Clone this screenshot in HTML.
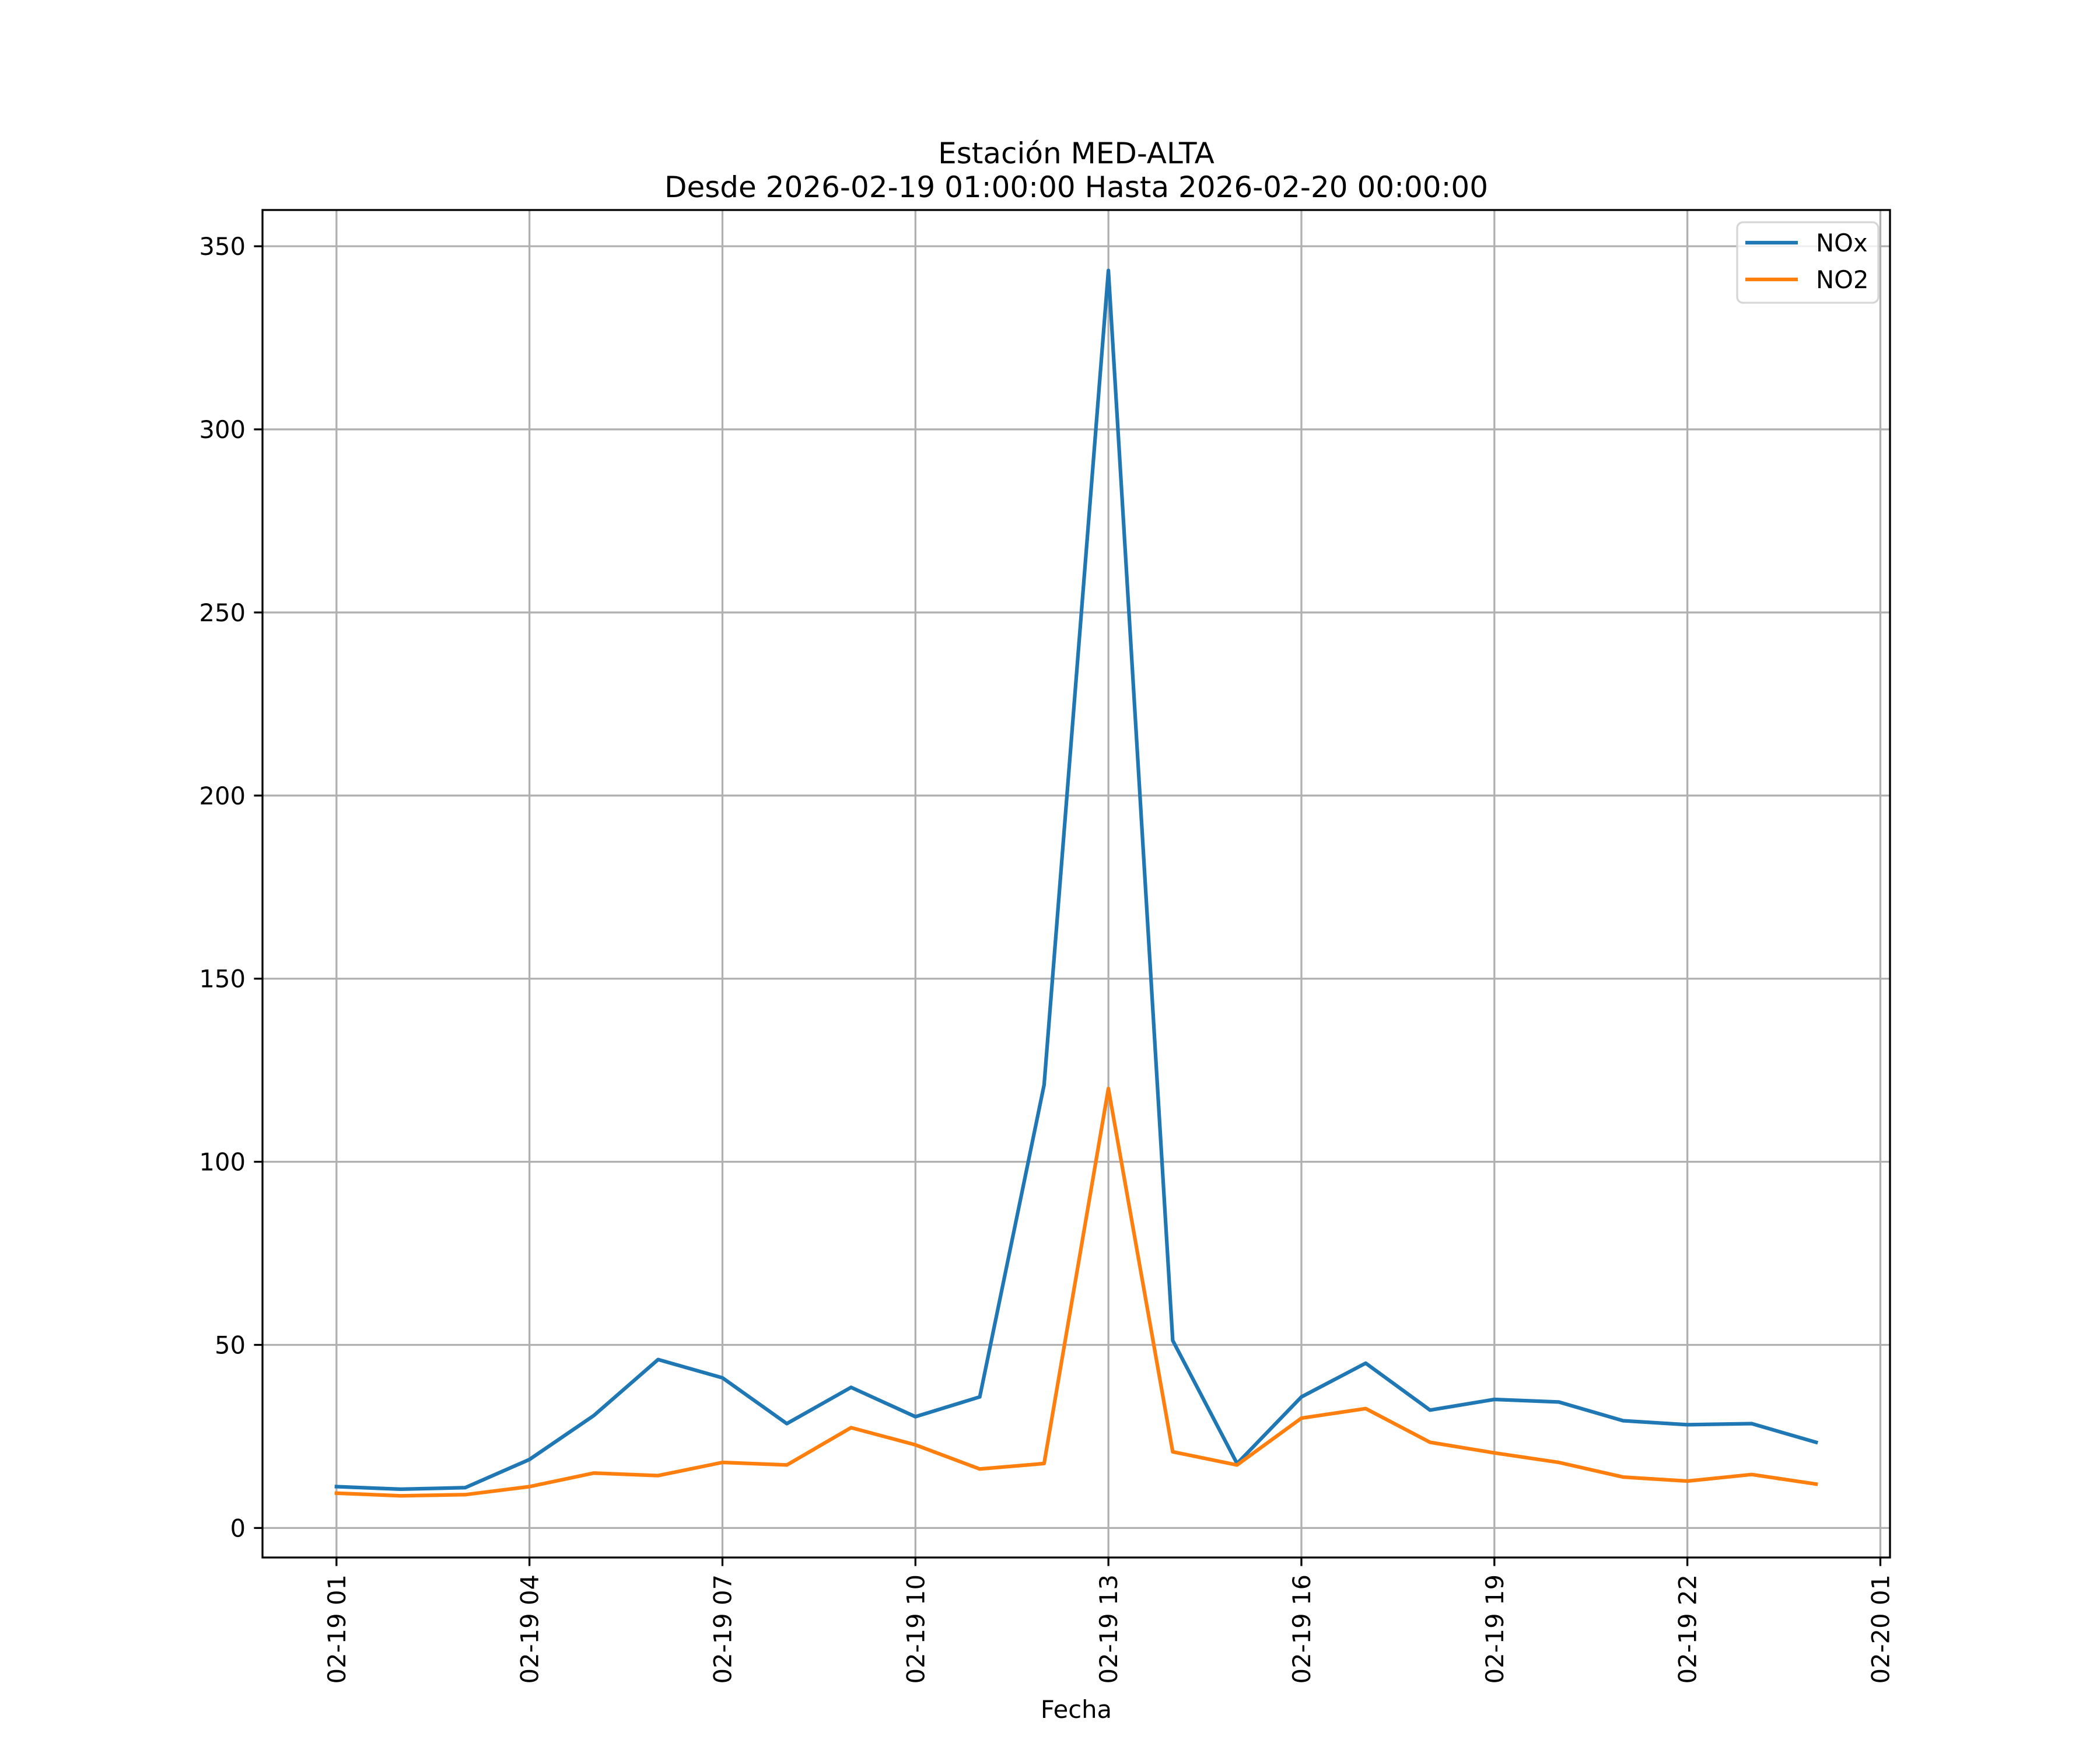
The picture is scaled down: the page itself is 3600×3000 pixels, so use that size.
<!DOCTYPE html>
<html><head><meta charset="utf-8"><style>
html,body{margin:0;padding:0;background:#fff;}
svg{display:block;font-family:"DejaVu Sans","Liberation Sans",sans-serif;}
</style></head><body>
<svg id="chart" width="3600" height="3000" viewBox="0 0 3600 3000" xmlns="http://www.w3.org/2000/svg">
<rect width="3600" height="3000" fill="#fff"/>
<text x="1845" y="280" font-size="50" text-anchor="middle">Estación MED-ALTA</text>
<text x="1845" y="338" font-size="50" text-anchor="middle">Desde 2026-02-19 01:00:00 Hasta 2026-02-20 00:00:00</text>
<g id="grid"></g>
<g id="series"></g>
<rect x="450" y="360" width="2790" height="2310" fill="none" stroke="#000" stroke-width="3.3"/>
<g id="ticks"></g>
<text x="1845" y="2945" font-size="41.7" text-anchor="middle">Fecha</text>
<g>
<rect x="2978" y="381" width="242" height="138" rx="10" fill="#fff" fill-opacity="0.8" stroke="#d6d6d6" stroke-width="3.3"/>
<line x1="2992" y1="416" x2="3082" y2="416" stroke="#1f77b4" stroke-width="6.25"/>
<text x="3113" y="431" font-size="41.7">NOx</text>
<line x1="2992" y1="479" x2="3082" y2="479" stroke="#ff7f0e" stroke-width="6.25"/>
<text x="3113" y="494" font-size="41.7">NO2</text>
</g>
</svg>
<script>
const hours = [1,2,3,4,5,6,7,8,9,10,11,12,13,14,15,16,17,18,19,20,21,22,23,24];
const noxValues = [11.3,10.6,11,18.7,30.7,46,41,28.5,38.4,30.4,35.8,121,343.4,51.2,17.6,35.8,45,32.2,35.1,34.4,29.3,28.2,28.5,23.4];
const no2Values = [9.5,8.8,9.1,11.3,15,14.3,17.9,17.2,27.4,22.7,16.1,17.6,120,20.8,17.2,30,32.6,23.4,20.5,17.9,13.9,12.8,14.6,12];
const yTicks = [0,50,100,150,200,250,300,350];
const xTickHours = [1,4,7,10,13,16,19,22,25];
const xTickLabels = ["02-19 01","02-19 04","02-19 07","02-19 10","02-19 13","02-19 16","02-19 19","02-19 22","02-20 01"];

const NS="http://www.w3.org/2000/svg";
const L=450,R=3240,T=360,B=2670;
const xMin=1-1.15, xMax=24+1.15;
const yMin=-8.06, yMax=359.9;
function xs(h){return L+(h-xMin)/(xMax-xMin)*(R-L);}
function ys(v){return B-(v-yMin)/(yMax-yMin)*(B-T);}
function mk(tag,attrs,parent){const e=document.createElementNS(NS,tag);for(const k in attrs)e.setAttribute(k,attrs[k]);parent.appendChild(e);return e;}
const grid=document.getElementById('grid'),ticks=document.getElementById('ticks'),series=document.getElementById('series');

yTicks.forEach(v=>{
  const y=ys(v);
  const g=mk('line',{x1:L,x2:R,y1:y,y2:y,stroke:'#b0b0b0','stroke-width':3.3},grid);
  
  
  const t=mk('line',{x1:L-14.6,x2:L,y1:y,y2:y,stroke:'#000','stroke-width':3.3},ticks);
  
  
  const tx=mk('text',{x:L-29,y:y+15,'font-size':41.7,'text-anchor':'end'},ticks);
  tx.textContent=v;
  
  
});
xTickHours.forEach((h,i)=>{
  const x=xs(h);
  const g=mk('line',{x1:x,x2:x,y1:T,y2:B,stroke:'#b0b0b0','stroke-width':3.3},grid);
  
  
  const t=mk('line',{x1:x,x2:x,y1:B,y2:B+14.6,stroke:'#000','stroke-width':3.3},ticks);
  
  
  const ty=B+29;
  const tx=mk('text',{x:x+15,y:ty,'font-size':41.7,'text-anchor':'end',transform:`rotate(-90 ${x+15} ${ty})`},ticks);
  tx.textContent=xTickLabels[i];
  
  
});
function line(vals,color,name){
  const pts=hours.map((h,i)=>xs(h).toFixed(1)+','+ys(vals[i]).toFixed(1)).join(' ');
  const p=mk('polyline',{points:pts,fill:'none',stroke:color,'stroke-width':6.25,'stroke-linejoin':'round','stroke-linecap':'square'},series);
  
  
}
line(noxValues,'#1f77b4','nox-line');
line(no2Values,'#ff7f0e','no2-line');
</script>
</body></html>
